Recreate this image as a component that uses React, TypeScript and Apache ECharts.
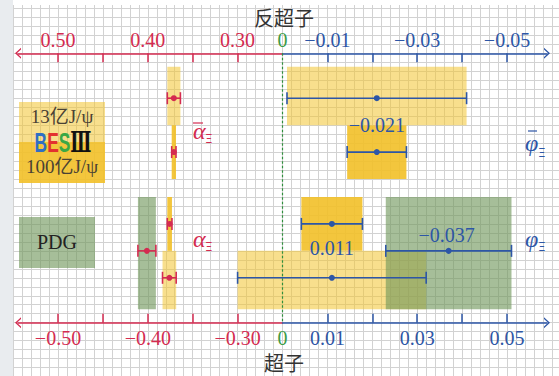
import React, { useEffect, useRef } from 'react';
import * as echarts from 'echarts';

// ---------------- data ----------------
const sources = ['13亿J/ψ', '100亿J/ψ', 'PDG'];
// anti-hyperon (Ξ̄+): 13亿, 100亿
const alphaBarValues = [0.371, 0.371];
const alphaBarErrors = [0.0073, 0.0024];
const phiBarValues = [-0.021, -0.021];
const phiBarErrors = [0.020, 0.0066];
const phiBarLabels = ['', '−0.021'];
// hyperon (Ξ−): 13亿, 100亿, PDG
const alphaValues = [-0.376, -0.3757, -0.401];
const alphaErrors = [0.0076, 0.0026, 0.010];
const phiValues = [0.011, 0.011, -0.037];
const phiErrors = [0.021, 0.0068, 0.014];
const phiLabels = ['', '0.011', '−0.037'];

const topAlphaTicks = ['0.50', '0.40', '0.30'];
const topPhiTicks = ['−0.01', '−0.03', '−0.05'];
const bottomAlphaTicks = ['−0.50', '−0.40', '−0.30'];
const bottomPhiTicks = ['0.01', '0.03', '0.05'];
const zeroLabel = '0';
const topTitle = '反超子';
const bottomTitle = '超子';

// ---------------- layout ----------------
const CELL = 8.98;
const X0 = 282.5;
const Y0 = 53.3;
const antiRows = { top: [1.5, 8], bottom: [8, 14], bar: [5, 11] };
const partRows = { top: [22, 16, 16], bottom: [28.5, 22, 28.5], bar: [25, 19, 22] };
const phiBarLabelOffsets = [[0, 0], [0, -27.5]];
const phiLabelOffsets = [[0, 0], [0, 24.5], [-2, -16]];

const RED = '#d42b50';
const BLUE = '#2d56a6';
const GREEN = '#3a9b45';
const DASH_GREEN = '#2f8f3c';
const FILLS = ['rgba(242,196,48,0.55)', 'rgba(242,192,40,0.9)', 'rgba(112,150,90,0.62)'];
const SERIF = '"Liberation Serif", "DejaVu Serif", serif';
const CJK = '"Noto Sans CJK SC", sans-serif';

const alphaCell = (m: number) => -(m - 0.25) * 100;
const phiCell = (m: number) => m * 500;
const num = (s: string) => parseFloat(s.replace('−', '-'));

type M = { c: number; lo: number; hi: number; top: number; bottom: number; bar: number; src: number };
function measurements(values: number[], errors: number[], toCell: (m: number) => number, rows: any): M[] {
  return values.map((v, i) => {
    const m = Math.abs(v);
    const a = toCell(m - errors[i]);
    const b = toCell(m + errors[i]);
    return { c: toCell(m), lo: Math.min(a, b), hi: Math.max(a, b), top: rows.top[i], bottom: rows.bottom[i], bar: rows.bar[i], src: i };
  });
}

const aBar = measurements(alphaBarValues, alphaBarErrors, alphaCell, antiRows);
const pBar = measurements(phiBarValues, phiBarErrors, phiCell, antiRows);
const aPart = measurements(alphaValues, alphaErrors, alphaCell, partRows);
const pPart = measurements(phiValues, phiErrors, phiCell, partRows);

const allBoxes = [...aBar, ...pBar, ...aPart, ...pPart].sort((a, b) => a.src - b.src);
const boxData = allBoxes.map((m) => [m.lo, m.hi, m.top, m.bottom, m.src]);

const redBars = [...aBar, ...aPart].map((m) => [m.c, m.lo, m.hi, m.bar]);
const blueMs = [...pBar, ...pPart];
const blueBars = blueMs.map((m) => [m.c, m.lo, m.hi, m.bar]);
const blueLabels = [...phiBarLabels, ...phiLabels];
const blueOffsets = [...phiBarLabelOffsets, ...phiLabelOffsets];

const alphaLabelCells = topAlphaTicks.map((t) => alphaCell(Math.abs(num(t))));
const phiLabelCells = topPhiTicks.map((t) => phiCell(Math.abs(num(t))));
const mids = (arr: number[]) => arr.slice(1).map((v, i) => (v + arr[i]) / 2);
const alphaTickCells = [...alphaLabelCells, ...mids(alphaLabelCells)].sort((a, b) => a - b);
const phiTickCells = [...phiLabelCells, ...mids(phiLabelCells)].sort((a, b) => a - b);

const lookup = (cells: number[], labels: string[]) => (v: number) => {
  if (Math.abs(v) < 1e-9) return zeroLabel;
  const i = cells.findIndex((c) => Math.abs(c - v) < 1e-6);
  return i >= 0 ? labels[i] : '';
};

const ARROW = 'path://M0,6L5.5,0L11,6L9.3,6L5.5,1.9L1.7,6Z';
const L_LEFT = 18;
const R_RIGHT = 547;

function visAxis(grid: number, pos: 'top' | 'bottom', color: string, min: number, max: number, ticks: number[], labelVals: number[], fmt: (v: number) => string, arrow: [string, string]) {
  return {
    type: 'value', gridIndex: grid, position: pos, min, max,
    axisLine: { show: true, onZero: false, symbol: arrow, symbolSize: [11, 6], lineStyle: { color, width: 1.5 } },
    axisTick: { show: true, inside: true, length: 9, customValues: ticks, lineStyle: { color, width: 1.5 } },
    axisLabel: {
      show: true, customValues: labelVals, formatter: fmt, showMinLabel: true, showMaxLabel: true,
      margin: pos === 'top' ? 3 : 5, fontFamily: SERIF, fontSize: 20,
      color: (v: any) => (Math.abs(Number(v)) < 1e-9 ? GREEN : color),
    },
    splitLine: { show: false },
  };
}

function buildOption(): any {
  const lMin = (L_LEFT - X0) / CELL;
  const rMax = (R_RIGHT - X0) / CELL;
  const hidden = { show: false };
  const base = { outerBoundsMode: 'none', containLabel: false };
  const grids = [
    { ...base, left: X0 - 30 * CELL, top: Y0 - 6 * CELL, width: 61 * CELL, height: 48 * CELL },
    { ...base, left: X0 - 30 * CELL, top: 5, width: 61 * CELL, height: 376 - 5 },
    { ...base, left: L_LEFT, top: Y0, width: X0 - L_LEFT, height: 30 * CELL },
    { ...base, left: X0, top: Y0, width: R_RIGHT - X0, height: 30 * CELL },
  ];
  const gridLine = { show: true, lineStyle: { color: '#d2d2d2', width: 1 } };
  const xAxis = [
    { type: 'value', gridIndex: 0, min: -30, max: 31, show: false },
    { type: 'value', gridIndex: 1, min: -30, max: 31, interval: 1, axisLine: hidden, axisTick: hidden, axisLabel: hidden, splitLine: gridLine },
    visAxis(2, 'top', RED, lMin, 0, alphaTickCells, alphaLabelCells, lookup(alphaLabelCells, topAlphaTicks), [ARROW, 'none']),
    visAxis(2, 'bottom', RED, lMin, 0, alphaTickCells, alphaLabelCells, lookup(alphaLabelCells, bottomAlphaTicks), [ARROW, 'none']),
    visAxis(3, 'top', BLUE, 0, rMax, phiTickCells, [0, ...phiLabelCells], lookup(phiLabelCells, topPhiTicks), ['none', ARROW]),
    visAxis(3, 'bottom', BLUE, 0, rMax, phiTickCells, [0, ...phiLabelCells], lookup(phiLabelCells, bottomPhiTicks), ['none', ARROW]),
  ];
  const yAxis = [
    { type: 'value', gridIndex: 0, min: -6, max: 42, interval: 1, inverse: true, axisLine: hidden, axisTick: hidden, axisLabel: hidden, splitLine: gridLine },
    { type: 'value', gridIndex: 1, min: 0, max: 1, show: false },
    { type: 'value', gridIndex: 2, min: 0, max: 1, show: false },
    { type: 'value', gridIndex: 3, min: 0, max: 1, show: false },
  ];

  const errRender = (color: string, labels?: string[], offsets?: number[][]) => (params: any, api: any) => {
    const y = api.value(3);
    const c = api.coord([api.value(0), y]);
    const l = api.coord([api.value(1), y]);
    const r = api.coord([api.value(2), y]);
    const h = 6;
    const st = { stroke: color, lineWidth: 1.6 };
    const children: any[] = [
      { type: 'line', shape: { x1: l[0], y1: l[1], x2: r[0], y2: r[1] }, style: st },
      { type: 'line', shape: { x1: l[0], y1: l[1] - h, x2: l[0], y2: l[1] + h }, style: st },
      { type: 'line', shape: { x1: r[0], y1: r[1] - h, x2: r[0], y2: r[1] + h }, style: st },
      { type: 'circle', shape: { cx: c[0], cy: c[1], r: 3 }, style: { fill: color } },
    ];
    if (labels && labels[params.dataIndex]) {
      const off = offsets![params.dataIndex];
      children.push({
        type: 'text', x: c[0] + off[0], y: c[1] + off[1],
        style: { text: labels[params.dataIndex], fill: color, font: `20px ${SERIF}`, align: 'center', verticalAlign: 'middle', textAlign: 'center', textVerticalAlign: 'middle' },
      });
    }
    return { type: 'group', children };
  };

  const series: any[] = [
    {
      type: 'custom', xAxisIndex: 0, yAxisIndex: 0, z: 2, silent: true, clip: false,
      data: boxData,
      renderItem: (params: any, api: any) => {
        const a = api.coord([api.value(0), api.value(2)]);
        const b = api.coord([api.value(1), api.value(3)]);
        return { type: 'rect', shape: { x: a[0], y: a[1], width: b[0] - a[0], height: b[1] - a[1] }, style: { fill: FILLS[api.value(4)] } };
      },
    },
    {
      type: 'line', xAxisIndex: 0, yAxisIndex: 0, z: 3, silent: true, symbol: 'none',
      data: [[0, 0], [0, 30]], lineStyle: { color: DASH_GREEN, width: 1.2, type: [2.5, 2] },
    },
    { type: 'custom', xAxisIndex: 0, yAxisIndex: 0, z: 4, silent: true, clip: false, data: redBars, renderItem: errRender(RED) },
    { type: 'custom', xAxisIndex: 0, yAxisIndex: 0, z: 4, silent: true, clip: false, data: blueBars, renderItem: errRender(BLUE, blueLabels, blueOffsets) },
  ];

  const txt = (x: number, y: number, text: string, font: string, fill: string, align = 'center', extra: any = {}) => ({
    type: 'text', x, y, z: 10, silent: true, ...extra,
    style: { text, font, fill, align, verticalAlign: 'middle', textAlign: align, textVerticalAlign: 'middle' },
  });
  const bar = (x1: number, x2: number, y: number, color: string) => ({
    type: 'line', z: 10, silent: true, shape: { x1, y1: y, x2, y2: y }, style: { stroke: color, lineWidth: 1.2 },
  });

  const graphic: any[] = [
    { type: 'rect', z: 0, silent: true, shape: { x: 0, y: 0, width: 13, height: 376 }, style: { fill: '#e9ecef' } },
    // legend
    { type: 'rect', z: 1, silent: true, shape: { x: 19, y: 102, width: 86, height: 40 }, style: { fill: FILLS[0] } },
    { type: 'rect', z: 1, silent: true, shape: { x: 19, y: 142, width: 86, height: 41 }, style: { fill: FILLS[1] } },
    { type: 'rect', z: 1, silent: true, shape: { x: 19, y: 217, width: 76, height: 51 }, style: { fill: FILLS[2] } },
    txt(62, 116, sources[0], `19px ${SERIF}, ${CJK}`, '#4a4234'),
    txt(62, 166, sources[1], `19px ${SERIF}, ${CJK}`, '#4a4234'),
    txt(57, 242, sources[2], `20px ${SERIF}`, '#222'),
    {
      type: 'text', x: 63, y: 142, z: 10, silent: true, scaleX: 0.62,
      style: {
        text: '{b|B}{e|E}{s|S}{t|Ⅲ}', align: 'center', verticalAlign: 'middle', textAlign: 'center', textVerticalAlign: 'middle',
        rich: {
          b: { font: 'bold 28px "Liberation Sans", sans-serif', fill: '#2f6fc4' },
          e: { font: 'bold 28px "Liberation Sans", sans-serif', fill: '#e3312f' },
          s: { font: 'bold 28px "Liberation Sans", sans-serif', fill: '#3aa845' },
          t: { font: 'bold 28px "DejaVu Serif", serif', fill: '#111' },
        },
      },
    },
    // titles
    txt(284, 17, topTitle, `20px ${CJK}`, '#333'),
    txt(284, 362, bottomTitle, `20px ${CJK}`, '#333'),
    // greek labels
    txt(193, 131, 'α', `italic 24px ${SERIF}`, RED, 'left'),
    bar(193, 203, 123, RED),
    txt(205, 139, 'Ξ', `12px "DejaVu Sans", sans-serif`, RED, 'left'),
    txt(193, 239, 'α', `italic 24px ${SERIF}`, RED, 'left'),
    txt(205, 247, 'Ξ', `12px "DejaVu Sans", sans-serif`, RED, 'left'),
    txt(525, 143, 'φ', `italic 24px ${SERIF}`, BLUE, 'left'),
    bar(528, 537, 131, BLUE),
    txt(538, 153, 'Ξ', `12px "DejaVu Sans", sans-serif`, BLUE, 'left'),
    txt(525, 239, 'φ', `italic 24px ${SERIF}`, BLUE, 'left'),
    txt(538, 247, 'Ξ', `12px "DejaVu Sans", sans-serif`, BLUE, 'left'),
  ];

  return { animation: false, backgroundColor: '#fff', grid: grids, xAxis, yAxis, series, graphic };
}

export default function App() {
  const ref = useRef<HTMLDivElement>(null);
  useEffect(() => {
    if (!ref.current) return;
    const chart = echarts.init(ref.current, undefined, { renderer: 'svg' });
    chart.setOption(buildOption());
    return () => chart.dispose();
  }, []);
  return <div ref={ref} style={{ position: 'fixed', left: 0, top: 0, width: 559, height: 376 }} />;
}
